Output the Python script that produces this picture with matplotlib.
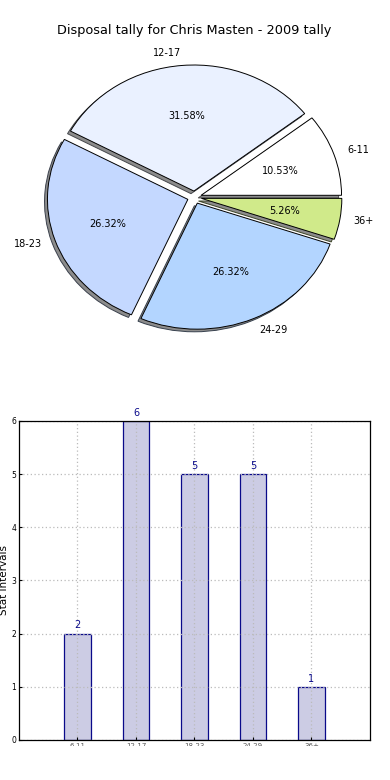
import matplotlib
matplotlib.use("Agg")
import matplotlib.pyplot as plt
from matplotlib.transforms import Bbox, TransformedBbox

categories = ["6-11", "12-17", "18-23", "24-29", "36+"]
counts = [2, 6, 5, 5, 1]
pie_colors = ["#ffffff", "#eaf1ff", "#c4d8ff", "#b3d5ff", "#d0ea8a"]
explode = [0.05, 0.05, 0.05, 0.05, 0.05]
yticks = [0, 1, 2, 3, 4, 5, 6]

fig = plt.figure(figsize=(3.9, 7.8), dpi=100)

# Pie
axp = fig.add_axes([0.0487, 0.545, 0.9, 0.404])
wedges, texts, autotexts = axp.pie(
    counts, labels=categories, colors=pie_colors, explode=explode,
    autopct="%1.2f%%",
    shadow={'ox': -0.015, 'oy': -0.015, 'facecolor': '0.55', 'alpha': 1.0},
    wedgeprops={'edgecolor': 'black', 'linewidth': 0.7},
    textprops={'fontsize': 7})
for t in autotexts:
    t.set_fontsize(7)
axp.set_aspect('auto')
axp.set_xlim(-1.25, 1.25)
axp.set_ylim(-1.25, 1.25)
axp.set_title("Disposal tally for Chris Masten - 2009 tally", fontsize=9.3, pad=4)

# Bars
axb = fig.add_axes([0.0487, 0.0513, 0.9, 0.409])
x = list(range(len(categories)))
bars = axb.bar(x, counts, width=0.45, color="#ccccE4", edgecolor="#0a0a8a", linewidth=0.9)
for xi, v in zip(x, counts):
    axb.text(xi, v + 0.06, str(v), ha='center', va='bottom', color="#0a0a8a", fontsize=7)
axb.set_xlim(-1, 5)
axb.set_ylim(0, 6)
axb.set_yticks(yticks)
axb.set_xticks(x)
axb.set_xticklabels(categories, fontsize=5, color='#555555')
axb.tick_params(axis='y', labelsize=5.5, length=2, pad=2, direction='in')
axb.tick_params(axis='x', length=2, pad=2, direction='in')
axb.grid(True, color='#bbbbbb', linestyle=(0, (1, 2)), linewidth=0.9)
axb.set_axisbelow(False)
axb.set_ylabel("Stat intervals", fontsize=7.5, labelpad=2)
for sp in axb.spines.values():
    sp.set_linewidth(0.9)
    sp.set_zorder(5)

clip = TransformedBbox(Bbox([[0, -0.02], [1, 1]]), axb.transAxes)
for lab in axb.get_xticklabels():
    lab.set_clip_box(clip)
    lab.set_clip_on(True)

fig.savefig("out.png", dpi=100)
